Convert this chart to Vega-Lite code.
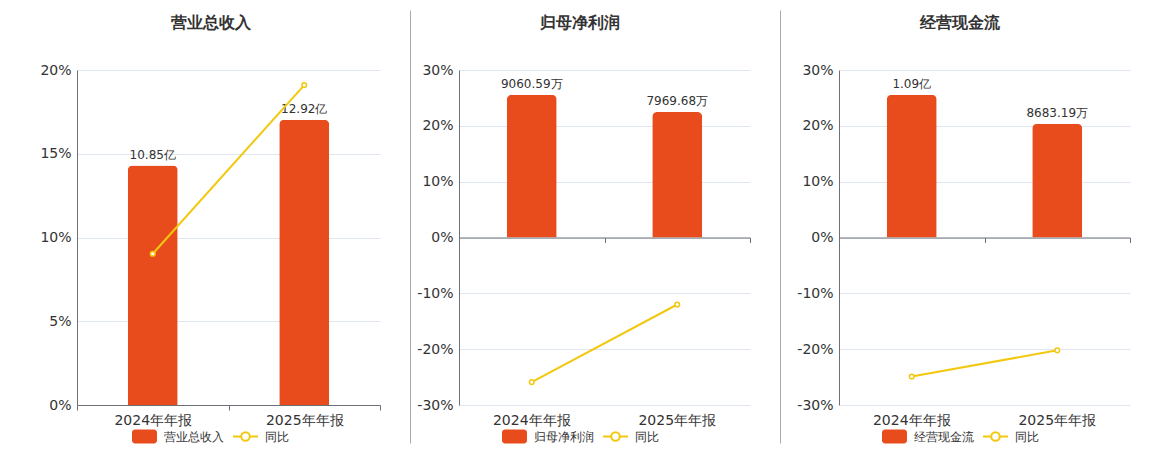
{
  "$schema": "https://vega.github.io/schema/vega-lite/v6.json",
  "padding": {"left": 0, "top": 10, "right": 0, "bottom": 0},
  "background": "white",
  "spacing": 0,
  "config": {
    "font": "DejaVu Sans",
    "view": {"stroke": null},
    "concat": {"spacing": 0},
    "axis": {"labelFont": "DejaVu Sans"},
    "legend": {"labelFont": "DejaVu Sans", "labelFontSize": 12, "labelColor": "#333333", "labelOffset": 6, "symbolSize": 625, "padding": 0, "orient": "none", "direction": "horizontal", "title": null}
  },
  "datasets": {
    "fin": [
      {"metric": "营业总收入", "period": "2024年年报", "value": 108500, "label": "10.85亿", "yoy": 9.03},
      {"metric": "营业总收入", "period": "2025年年报", "value": 129200, "label": "12.92亿", "yoy": 19.1},
      {"metric": "归母净利润", "period": "2024年年报", "value": 9060.59, "label": "9060.59万", "yoy": -25.9},
      {"metric": "归母净利润", "period": "2025年年报", "value": 7969.68, "label": "7969.68万", "yoy": -12.0},
      {"metric": "经营现金流", "period": "2024年年报", "value": 10900, "label": "1.09亿", "yoy": -24.9},
      {"metric": "经营现金流", "period": "2025年年报", "value": 8683.19, "label": "8683.19万", "yoy": -20.2}
    ]
  },
  "resolve": {"scale": {"fill": "independent", "stroke": "independent"}, "legend": {"fill": "independent", "stroke": "independent"}},
  "hconcat": [
    {
      "width": 303,
      "height": 335,
      "data": {"name": "fin"},
      "transform": [{"filter": "datum.metric === '营业总收入'"}],
      "title": {"text": "营业总收入", "anchor": "middle", "frame": "group", "dx": -18, "offset": 32, "fontSize": 16, "fontWeight": "bold", "color": "#333333"},
      "layer": [
        {
          "layer": [
            {
              "mark": {"type": "bar", "size": 50, "cornerRadiusTopLeft": 5, "cornerRadiusTopRight": 5},
              "encoding": {
                "x": {"field": "period", "type": "nominal", "sort": null, "scale": {"paddingInner": 0, "paddingOuter": 0},
                  "axis": {"title": null, "labelAngle": 0, "labelFontSize": 14, "labelColor": "#333333", "labelPadding": 3, "domainColor": "#6E7079", "tickColor": "#6E7079", "tickSize": 5, "tickBand": "extent", "grid": false}},
                "y": {"field": "value", "type": "quantitative", "scale": {"domain": [0, 151800], "nice": false}, "axis": null},
                "fill": {"datum": "营业总收入", "type": "nominal", "scale": {"range": ["#E84C1D"]},
                  "legend": {"legendX": 54, "legendY": 353, "symbolType": "M-0.76,-0.56H0.76A0.24,0.24,0,0,1,1,-0.32V0.32A0.24,0.24,0,0,1,0.76,0.56H-0.76A0.24,0.24,0,0,1,-1,0.32V-0.32A0.24,0.24,0,0,1,-0.76,-0.56Z"}}
              }
            },
            {
              "mark": {"type": "text", "baseline": "bottom", "dy": -4, "fontSize": 12, "color": "#333333", "font": "DejaVu Sans"},
              "encoding": {
                "x": {"field": "period", "type": "nominal", "sort": null},
                "y": {"field": "value", "type": "quantitative"},
                "text": {"field": "label"}
              }
            }
          ]
        },
        {
          "mark": {"type": "line", "strokeWidth": 2, "point": {"filled": false, "fill": "white", "size": 22, "strokeWidth": 1.5}},
          "encoding": {
            "x": {"field": "period", "type": "nominal", "sort": null},
            "y": {"field": "yoy", "type": "quantitative", "scale": {"domain": [0, 20]},
              "axis": {"orient": "left", "title": null, "values": [0, 5, 10, 15, 20], "labelExpr": "datum.value + '%'", "labelFontSize": 14, "labelColor": "#333333", "labelPadding": 6, "ticks": false, "domainColor": "#6E7079", "grid": true, "gridColor": "#E0E6F1", "minExtent": 77, "maxExtent": 77}},
            "stroke": {"datum": "同比", "type": "nominal", "scale": {"range": ["#F2C80F"]},
              "legend": {"legendX": 155, "legendY": 353, "symbolStrokeWidth": 2, "symbolFillColor": "white", "symbolType": "M-1,0H-0.34M0.34,0H1M0.34,0A0.34,0.34,0,1,1,-0.34,0A0.34,0.34,0,1,1,0.34,0"}}
          }
        }
      ],
      "resolve": {"scale": {"y": "independent"}}
    },
    {
      "width": 29,
      "height": 433,
      "data": {"name": "fin"},
      "mark": {"type": "rule", "opacity": 0},
      "encoding": {
        "y": {"datum": 0, "type": "quantitative", "axis": {"orient": "right", "position": -60, "labels": false, "ticks": false, "grid": false, "title": null, "domainColor": "#AAAAAA", "domainWidth": 1}}
      }
    },
    {
      "width": 291,
      "height": 335,
      "data": {"name": "fin"},
      "transform": [{"filter": "datum.metric === '归母净利润'"}],
      "title": {"text": "归母净利润", "anchor": "middle", "frame": "group", "dx": -24.5, "offset": 32, "fontSize": 16, "fontWeight": "bold", "color": "#333333"},
      "layer": [
        {
          "layer": [
            {
              "mark": {"type": "bar", "size": 50, "cornerRadiusTopLeft": 5, "cornerRadiusTopRight": 5},
              "encoding": {
                "x": {"field": "period", "type": "nominal", "sort": null, "scale": {"paddingInner": 0, "paddingOuter": 0},
                  "axis": {"orient": "bottom", "title": null, "labelAngle": 0, "labelFontSize": 14, "labelColor": "#333333", "labelPadding": 3, "domain": false, "ticks": true, "tickSize": 5, "tickOpacity": 0, "grid": false}},
                "y": {"field": "value", "type": "quantitative", "scale": {"domain": [-10640, 10640], "nice": false}, "axis": null},
                "fill": {"datum": "归母净利润", "type": "nominal", "scale": {"range": ["#E84C1D"]},
                  "legend": {"legendX": 42, "legendY": 353, "symbolType": "M-0.76,-0.56H0.76A0.24,0.24,0,0,1,1,-0.32V0.32A0.24,0.24,0,0,1,0.76,0.56H-0.76A0.24,0.24,0,0,1,-1,0.32V-0.32A0.24,0.24,0,0,1,-0.76,-0.56Z"}}
              }
            },
            {
              "mark": {"type": "text", "baseline": "bottom", "dy": -4, "fontSize": 12, "color": "#333333", "font": "DejaVu Sans"},
              "encoding": {
                "x": {"field": "period", "type": "nominal", "sort": null},
                "y": {"field": "value", "type": "quantitative"},
                "text": {"field": "label"}
              }
            }
          ]
        },
        {
          "mark": {"type": "line", "strokeWidth": 2, "point": {"filled": false, "fill": "white", "size": 22, "strokeWidth": 1.5}},
          "encoding": {
            "x": {"field": "period", "type": "nominal", "sort": null,
              "axis": {"orient": "bottom", "title": null, "offset": -167.5, "labels": false, "domainColor": "#6E7079", "tickColor": "#6E7079", "tickSize": 5, "tickBand": "extent", "grid": false}},
            "y": {"field": "yoy", "type": "quantitative", "scale": {"domain": [-30, 30]},
              "axis": {"orient": "left", "title": null, "values": [-30, -20, -10, 0, 10, 20, 30], "labelExpr": "datum.value + '%'", "labelFontSize": 14, "labelColor": "#333333", "labelPadding": 6, "ticks": false, "domainColor": "#6E7079", "grid": true, "gridColor": "#E0E6F1", "minExtent": 49, "maxExtent": 49}},
            "stroke": {"datum": "同比", "type": "nominal", "scale": {"range": ["#F2C80F"]},
              "legend": {"legendX": 143, "legendY": 353, "symbolStrokeWidth": 2, "symbolFillColor": "white", "symbolType": "M-1,0H-0.34M0.34,0H1M0.34,0A0.34,0.34,0,1,1,-0.34,0A0.34,0.34,0,1,1,0.34,0"}}
          }
        }
      ],
      "resolve": {"scale": {"y": "independent"}, "axis": {"x": "independent"}}
    },
    {
      "width": 29,
      "height": 433,
      "data": {"name": "fin"},
      "mark": {"type": "rule", "opacity": 0},
      "encoding": {
        "y": {"datum": 0, "type": "quantitative", "axis": {"orient": "right", "position": -60, "labels": false, "ticks": false, "grid": false, "title": null, "domainColor": "#AAAAAA", "domainWidth": 1}}
      }
    },
    {
      "width": 291,
      "height": 335,
      "data": {"name": "fin"},
      "transform": [{"filter": "datum.metric === '经营现金流'"}],
      "title": {"text": "经营现金流", "anchor": "middle", "frame": "group", "dx": -24.5, "offset": 32, "fontSize": 16, "fontWeight": "bold", "color": "#333333"},
      "layer": [
        {
          "layer": [
            {
              "mark": {"type": "bar", "size": 50, "cornerRadiusTopLeft": 5, "cornerRadiusTopRight": 5},
              "encoding": {
                "x": {"field": "period", "type": "nominal", "sort": null, "scale": {"paddingInner": 0, "paddingOuter": 0},
                  "axis": {"orient": "bottom", "title": null, "labelAngle": 0, "labelFontSize": 14, "labelColor": "#333333", "labelPadding": 3, "domain": false, "ticks": true, "tickSize": 5, "tickOpacity": 0, "grid": false}},
                "y": {"field": "value", "type": "quantitative", "scale": {"domain": [-12790, 12790], "nice": false}, "axis": null},
                "fill": {"datum": "经营现金流", "type": "nominal", "scale": {"range": ["#E84C1D"]},
                  "legend": {"legendX": 42, "legendY": 353, "symbolType": "M-0.76,-0.56H0.76A0.24,0.24,0,0,1,1,-0.32V0.32A0.24,0.24,0,0,1,0.76,0.56H-0.76A0.24,0.24,0,0,1,-1,0.32V-0.32A0.24,0.24,0,0,1,-0.76,-0.56Z"}}
              }
            },
            {
              "mark": {"type": "text", "baseline": "bottom", "dy": -4, "fontSize": 12, "color": "#333333", "font": "DejaVu Sans"},
              "encoding": {
                "x": {"field": "period", "type": "nominal", "sort": null},
                "y": {"field": "value", "type": "quantitative"},
                "text": {"field": "label"}
              }
            }
          ]
        },
        {
          "mark": {"type": "line", "strokeWidth": 2, "point": {"filled": false, "fill": "white", "size": 22, "strokeWidth": 1.5}},
          "encoding": {
            "x": {"field": "period", "type": "nominal", "sort": null,
              "axis": {"orient": "bottom", "title": null, "offset": -167.5, "labels": false, "domainColor": "#6E7079", "tickColor": "#6E7079", "tickSize": 5, "tickBand": "extent", "grid": false}},
            "y": {"field": "yoy", "type": "quantitative", "scale": {"domain": [-30, 30]},
              "axis": {"orient": "left", "title": null, "values": [-30, -20, -10, 0, 10, 20, 30], "labelExpr": "datum.value + '%'", "labelFontSize": 14, "labelColor": "#333333", "labelPadding": 6, "ticks": false, "domainColor": "#6E7079", "grid": true, "gridColor": "#E0E6F1", "minExtent": 59, "maxExtent": 59}},
            "stroke": {"datum": "同比", "type": "nominal", "scale": {"range": ["#F2C80F"]},
              "legend": {"legendX": 143, "legendY": 353, "symbolStrokeWidth": 2, "symbolFillColor": "white", "symbolType": "M-1,0H-0.34M0.34,0H1M0.34,0A0.34,0.34,0,1,1,-0.34,0A0.34,0.34,0,1,1,0.34,0"}}
          }
        }
      ],
      "resolve": {"scale": {"y": "independent"}, "axis": {"x": "independent"}}
    }
  ]
}
